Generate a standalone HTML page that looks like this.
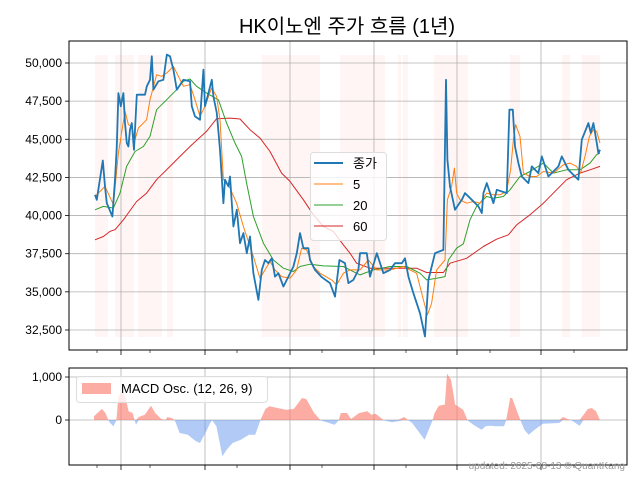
<!DOCTYPE html>
<html><head><meta charset="utf-8"><style>
body{margin:0;background:#fff;}
svg text{font-family:"Liberation Sans","Noto Sans CJK KR",sans-serif;}
</style></head><body>
<svg id="c" width="640" height="480" viewBox="0 0 640 480" xmlns="http://www.w3.org/2000/svg">
<rect width="640" height="480" fill="#fff"/>
<text x="347" y="33" text-anchor="middle" font-size="20" fill="#000">HK이노엔 주가 흐름 (1년)</text>
<g id="main"></g>
<g id="macd"></g>
<text x="625" y="469" text-anchor="end" font-size="10" fill="#999">updated: 2025-08-13 © QuantKang</text>
</svg>
<script>
const closeDay=[0.5,1.4,4.4,5.5,6.4,9.2,10.5,11.4,12.2,13.4,14.7,15.5,16.4,17.2,18,18.9,20,21.4,25.5,26.4,28,28.9,29.7,32.2,34.7,36.4,38,39.7,41.4,44.7,48,48.9,50.5,53,54.7,55.5,58.9,59.7,61.4,63,64.7,65.5,67.2,68,69.7,71.4,73,74.7,76.4,78,79.7,82.2,83.9,85.5,87.2,88.9,90.5,92.2,94.7,97.2,99.7,101.4,103,104.7,107.2,108,110.5,113.9,118,120.5,122.7,125.5,127.2,129.7,132.2,133,136.4,138,141.4,144.7,148,150.5,153.9,155.5,157.2,159.7,163,165.5,167.2,170.5,174.7,176,176.7,178,180.5,183.9,185.5,188.9,192.2,193.9,194.7,196.4,199.7,201.4,206.4,207.7,209.4,210.5,212.2,213.9,217.2,218.9,222.2,223.9,227.2,232.2,233.9,237.2,240.5,242.2,243.9,247.2,248.4,249.7,251.4,252.2,253];
const closeVal=[41360,41030,43610,41910,40810,39940,42350,44530,48030,47160,48030,46060,44750,44530,45630,46060,44310,47920,47920,48470,48900,50440,48250,48800,48900,50550,50440,49560,48250,48900,48800,47160,46500,46280,49560,47160,48900,47810,46720,44310,40810,42350,41910,42560,39280,40380,38190,38850,37530,38630,36220,34470,36440,37090,36880,37200,36000,36220,35350,36000,36660,37530,38850,37860,37860,37090,36440,35960,35570,34690,37090,36880,35570,35780,36440,37530,37530,36000,37530,36220,36440,36880,36880,37200,36000,34910,33600,32070,35780,37530,37750,48900,43660,41910,40380,41030,41470,41030,40600,40160,41470,42130,40810,41690,41470,46940,46940,44530,43440,42560,42130,43220,42780,43880,42560,43220,43880,43000,42560,42350,44970,46060,45410,46060,44750,44090,44310];
const ma5Day=[0.5,5.5,9.7,12.2,15.5,17.2,18.8,20.5,22.2,26.3,28,31.3,33.8,36.3,39.7,42.2,44.7,48,50.5,53,55.5,58.8,61.3,63,64.7,68,71.3,74.7,79.7,83,85.5,88,90.5,93.8,98,101.3,103.8,106.3,109.7,113,118.8,121.3,124.7,128,133,137.2,141.3,148,154.7,158,161.3,164.7,166.7,168.8,171.3,175.5,176.7,178.8,180.2,181.3,183,186.3,189.7,193,196.3,199.7,203,206.3,208.3,209.7,210.8,213,214.7,218,221.3,224.7,229.7,234.7,238,241.3,243.3,245.5,247.7,249.7,251.3,253];
const ma5Val=[41250,41910,40710,44100,46830,45960,45840,44970,45740,46280,47590,49230,49130,49340,49780,49130,48470,48580,47590,46500,47160,48360,47810,46280,42350,41800,40810,39280,37310,35890,36440,36990,36440,36000,35890,36440,37860,37750,36660,36220,35780,35460,36220,36440,36440,37090,36440,36440,36660,36440,36220,34470,33490,34250,36440,37090,41030,41910,43110,41470,41030,40810,40920,40810,41470,41360,41360,41580,43000,44970,45960,45190,42780,42560,42560,42890,42780,43330,43440,43220,42780,43880,45190,45630,45520,44750];
const ma20Day=[0.5,4.7,9.7,13,16.3,20.5,24.7,28,31.3,36.3,41.3,44.7,48,51.3,56.3,62.2,66.3,70.5,73.8,76.3,79.7,84.7,89.7,94.7,99.7,103,108,114.7,124.7,128,133,139.7,148,156.3,163,166.3,171.3,175.5,177.2,181.3,184.7,188,191.3,196.3,199.7,204.7,208,213,218,224.7,229.7,236.3,243,248,251.3,253];
const ma20Val=[40380,40600,40490,41470,43220,44200,44530,45190,46940,47590,48250,48800,48950,48470,48030,47590,46060,44750,43880,42130,39940,38190,37090,36550,36330,36660,36810,36700,36660,36440,36110,36440,36660,36660,36220,35780,35890,36000,37090,37860,38150,39720,40600,41250,41140,41250,41690,42560,42890,43440,42780,43000,43000,43440,43990,44100];
const ma60Day=[0.5,4.7,8,10.5,14.7,21.3,26.3,31.3,38,43,48,56.3,61.3,68,73,78,83,88,93.8,98,104.7,109.7,114.7,119.7,124.7,128,131.3,138,148,161.3,166.3,174.7,178,186.3,194.7,201.3,207.2,211.3,218,224.7,231.3,236.3,243,248,253];
const ma60Val=[38410,38630,38960,39070,39720,40920,41470,42350,43220,43880,44530,45520,46350,46390,46330,45630,45080,44200,42780,42240,41030,40050,39280,38960,38080,37530,36880,36550,36550,36550,36270,36270,36880,37200,37970,38450,38740,39390,40050,40810,41690,42350,42780,43000,43220];
const bandStart=[0.5,10.5,22,36.5,84,123,152,154.5,170,208,234,244];
const bandEnd=[7,20,34,39.5,113,145.5,153.5,157,187,213,238,253];
const yTicks=[32500,35000,37500,40000,42500,45000,47500,50000];
const yTickLabels=["32,500","35,000","37,500","40,000","42,500","45,000","47,500","50,000"];
const xGridDays=[13.5,55.5,98,140,181.5,223.5];
const xMinorDays=[1.5,28,71.5,114,156,198,240];
const macdDay=[0,4,5.7,7.1,8.1,9.7,11.2,12.2,14.2,15.2,17.3,19.3,20.3,21,22.4,25.4,28.5,30.6,33.6,35.7,36.7,38.7,40.4,42.8,46.9,51,53,56.1,58.1,59.1,61.2,64.2,66.3,69.3,73.4,77.5,80.6,83.2,85.7,87.7,91.8,95.9,99.9,104,106.1,110.1,113.2,116.3,120.3,122.4,123.4,126.5,128.5,132.6,136.7,138.7,140.8,144.8,148.9,152,155,157.1,159.1,165.3,169.3,170.3,172.4,175.4,176.5,178.5,180.6,184.6,186.7,189.7,193.8,195.8,197.9,200.9,205,206.1,208.1,209.1,211.2,213.2,215.2,217.3,220.3,224.4,232.6,234.6,236.7,238.7,242.8,244.8,246.9,248.9,251,253];
const macdVal=[85,257,163,8,-70,-147,-8,550,667,628,202,163,-8,-109,70,124,333,163,23,-8,70,47,-8,-302,-341,-496,-535,-264,-70,-8,-147,-845,-690,-535,-457,-341,-341,-8,256,318,279,240,256,512,488,163,-8,-54,-109,-8,163,163,23,163,202,124,147,-8,-54,-31,70,-8,-70,-457,-8,163,333,357,1078,938,357,240,-8,-109,-225,-147,-132,-147,-147,-8,512,512,240,-8,-225,-341,-225,-85,-70,70,23,-8,-132,124,256,279,202,-8];

const NS='http://www.w3.org/2000/svg';
function mk(parent,tag,attrs){const e=document.createElementNS(NS,tag);for(const k in attrs)e.setAttribute(k,attrs[k]);parent.appendChild(e);return e;}
const X0=69,X1=627;
const xs=d=>94+d*2;
const ys=v=>63+(50000-v)/2500*38.14;
const MT=41,MB=350;
const my=v=>420-v*0.043;
const LT=368,LB=465;
const main=document.getElementById('main');
// bands
for(let i=0;i<bandStart.length;i++){
 const r=mk(main,'rect',{x:xs(bandStart[i]),y:55,width:xs(bandEnd[i])-xs(bandStart[i]),height:282,fill:'rgba(255,160,150,0.1)'});
 
 
}
// grid
yTicks.forEach((v,i)=>{
 const l=mk(main,'line',{x1:X0,x2:X1,y1:ys(v),y2:ys(v),stroke:'#b0b0b0','stroke-width':0.8});
 
 
 const t=mk(main,'line',{x1:X0-4,x2:X0,y1:ys(v),y2:ys(v),stroke:'#000','stroke-width':0.8});
 
 
 const tx=mk(main,'text',{x:X0-7,y:ys(v)+4,'text-anchor':'end','font-size':12,fill:'#000'});
 tx.textContent=yTickLabels[i];
 
 
});
function vgrid(g,top,bot){
 xGridDays.forEach(d=>{
  const l=mk(g,'line',{x1:xs(d),x2:xs(d),y1:top,y2:bot,stroke:'#b0b0b0','stroke-width':0.8});
  
  
  const t=mk(g,'line',{x1:xs(d),x2:xs(d),y1:bot,y2:bot+5,stroke:'#000','stroke-width':0.8});
  
  
 });
 xMinorDays.forEach(d=>{
  const t=mk(g,'line',{x1:xs(d),x2:xs(d),y1:bot,y2:bot+3,stroke:'#000','stroke-width':0.6});
  
  
 });
}
vgrid(main,MT,MB);
function line(days,vals,color,w,name){
 const p=mk(main,'path',{d:days.map((d,i)=>(i?'L':'M')+xs(d).toFixed(1)+','+ys(vals[i]).toFixed(1)).join(''),fill:'none',stroke:color,'stroke-width':w,'stroke-linejoin':'round'});
 
 
}
line(ma60Day,ma60Val,'#d62728',1,'ma60-line');
line(ma20Day,ma20Val,'#2ca02c',1,'ma20-line');
line(ma5Day,ma5Val,'#ff7f0e',1,'ma5-line');
line(closeDay,closeVal,'#1f77b4',1.8,'close-line');
const fr=mk(main,'rect',{x:X0,y:MT,width:X1-X0,height:MB-MT,fill:'none',stroke:'#000','stroke-width':1});


// legend
const lg=mk(main,'g',{});


mk(lg,'rect',{x:310.5,y:152.5,width:76,height:88,rx:3,fill:'rgba(255,255,255,0.8)',stroke:'#ddd'});
const legItems=[['종가','#1f77b4',2],['5','#ff7f0e',1],['20','#2ca02c',1],['60','#d62728',1]];
legItems.forEach((it,i)=>{
 const y=163+i*21;
 const e=mk(lg,'line',{x1:314,x2:343,y1:y,y2:y,stroke:it[1],'stroke-width':it[2]});
 
 
 const t=mk(lg,'text',{x:353,y:y+5,'font-size':13,fill:'#000'});
 t.textContent=it[0];
 
 
});
// MACD
const mg=document.getElementById('macd');
[0,1000].forEach(v=>{
 const l=mk(mg,'line',{x1:X0,x2:X1,y1:my(v),y2:my(v),stroke:'#b0b0b0','stroke-width':0.8});
 
 
 const t=mk(mg,'line',{x1:X0-4,x2:X0,y1:my(v),y2:my(v),stroke:'#000','stroke-width':0.8});
 
 
 const tx=mk(mg,'text',{x:X0-7,y:my(v)+4,'text-anchor':'end','font-size':12,fill:'#000'});
 tx.textContent=v===0?'0':'1,000';
 
 
});
vgrid(mg,LT,LB);
function area(sign,color,name){
 let d='M'+xs(macdDay[0]).toFixed(1)+','+my(0);
 macdDay.forEach((dd,i)=>{const v=sign>0?Math.max(macdVal[i],0):Math.min(macdVal[i],0);d+='L'+xs(dd).toFixed(1)+','+my(v).toFixed(1);});
 d+='L'+xs(macdDay[macdDay.length-1]).toFixed(1)+','+my(0)+'Z';
 const p=mk(mg,'path',{d:d,fill:color,stroke:'none'});
 
 
}
area(1,'rgba(250,128,114,0.65)','macd-positive-area');
area(-1,'rgba(100,149,237,0.5)','macd-negative-area');
const fr2=mk(mg,'rect',{x:X0,y:LT,width:X1-X0,height:LB-LT,fill:'none',stroke:'#000','stroke-width':1});


const ml=mk(mg,'g',{});


mk(ml,'rect',{x:76.5,y:376.5,width:191,height:26,rx:3,fill:'rgba(255,255,255,0.8)',stroke:'#ddd'});
mk(ml,'rect',{x:82,y:383,width:29,height:11,fill:'rgba(250,128,114,0.65)'});
const mt=mk(ml,'text',{x:121,y:393,'font-size':13,fill:'#000'});
mt.textContent='MACD Osc. (12, 26, 9)';


</script>
</body></html>
